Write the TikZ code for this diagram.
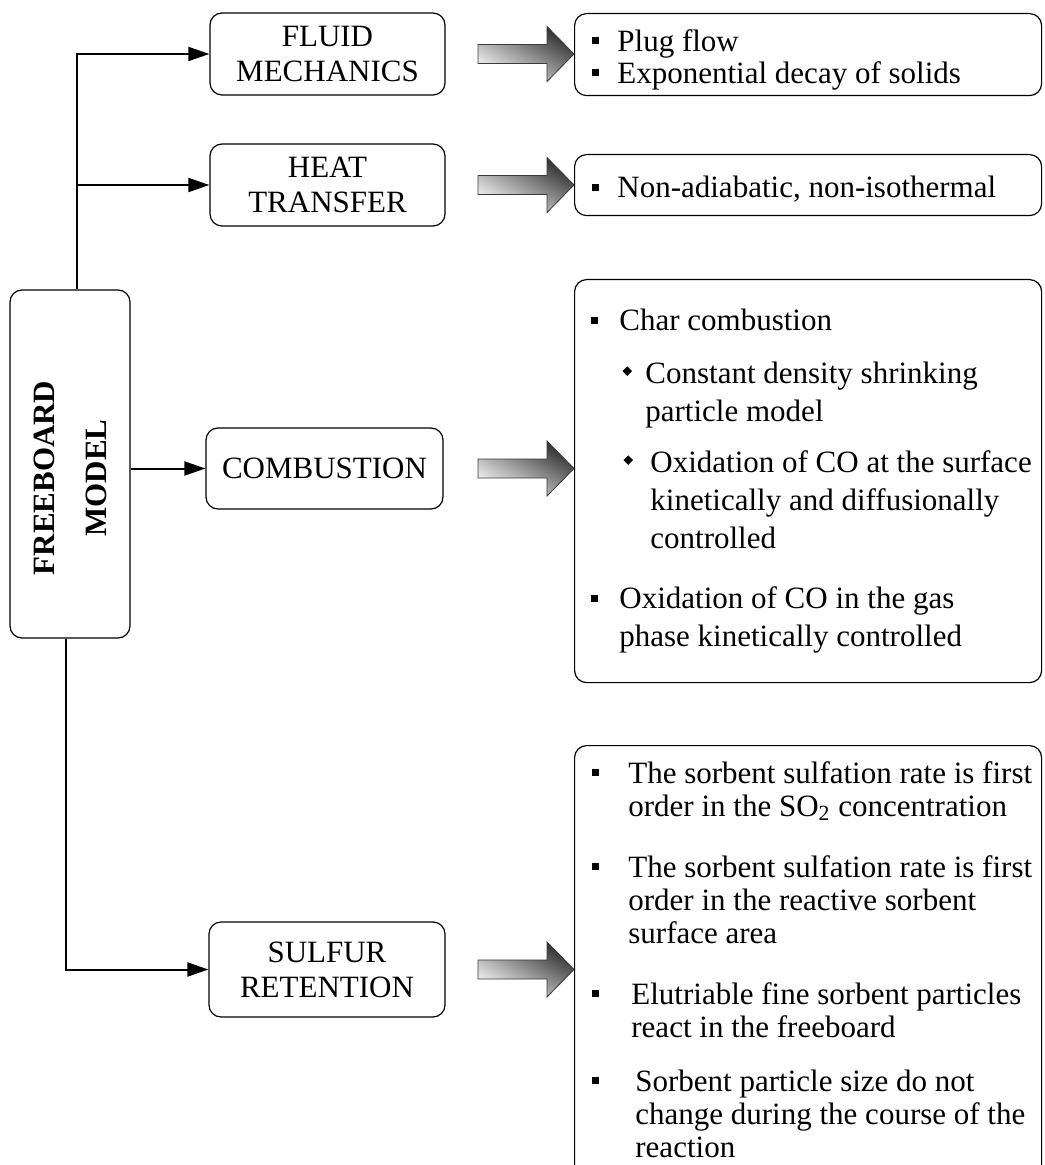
\documentclass[tikz,border=0pt]{standalone}
\usepackage{fontspec}
\setmainfont{Liberation Serif}
\usetikzlibrary{arrows.meta}
\definecolor{ink}{HTML}{000000}
\definecolor{arrowdark}{HTML}{2E2E2E}
\definecolor{arrowlight}{HTML}{F6F6F6}
\definecolor{arrowedge}{HTML}{3A3A3A}
\newcommand{\sqbullet}{\raisebox{3.5pt}{\rule{3.5pt}{3.5pt}}}
\newcommand{\dmbullet}{\raisebox{4pt}{\rotatebox{45}{\rule{3.4pt}{3.4pt}}}}
\tikzset{
  >={Triangle[length=10.5pt,width=7pt]},
  stage/.style={draw=ink,rounded corners=6pt,line width=.6pt,inner sep=0pt,align=center,
    font=\fontsize{15.5}{17.5}\selectfont},
  note/.style={draw=ink,rounded corners=6pt,line width=.6pt,inner sep=0pt,anchor=north west,
    minimum width=233.5pt},
  items/.style={anchor=north west,inner sep=0pt,align=left},
  link/.style={->,line width=1pt,color=ink},
  fatarrow/.style={draw=arrowedge,line width=.4pt,top color=arrowdark,bottom color=arrowlight,
    shading angle=-30},
}

\begin{document}
\begin{tikzpicture}[x=.5pt,y=-.5pt]
  \path[use as bounding box,fill=white] (0,0) rectangle (1044,1165);
  \clip (0,0) rectangle (1044,1165);

  % model and its four parts
  \node[stage,minimum width=60pt,minimum height=174pt] (free) at (70,464) {};
  \node[rotate=90,align=center,inner sep=0pt,font=\bfseries\fontsize{15.5}{26}\selectfont]
    (freetext) at ([yshift=-7pt]free.center) {FREEBOARD\\MODEL};

  \node[stage,minimum width=117.5pt,minimum height=41pt] (fluid) at (327.5,54) {FLUID\\MECHANICS};
  \node[stage,minimum width=117.5pt,minimum height=41pt] (heat) at (327.5,185) {HEAT\\TRANSFER};
  \node[stage,minimum width=118.5pt,minimum height=40.5pt] (comb) at (324.5,468.5) {COMBUSTION};
  \node[stage,minimum width=118pt,minimum height=47.5pt] (sulfur) at (327,969.5) {SULFUR\\RETENTION};

  \coordinate (trunktop) at ([xshift=3.5pt]free.north);
  \coordinate (trunkbot) at ([xshift=-2pt]free.south);
  \draw[link] (trunktop) |- (fluid.west);
  \draw[link] (trunktop |- heat.west) -- (heat.west);
  \draw[link] (free.east |- comb.west) -- (comb.west);
  \draw[link] (trunkbot) |- (sulfur.west);

  % assumption boxes
  \node[note,minimum height=41pt] (r1) at (574,13) {};
  \node[note,minimum height=30.5pt] (r2) at (574,154) {};
  \node[note,minimum height=201.5pt] (r3) at (574,279) {};
  \node[note,minimum height=230pt] (r4) at (574,745) {};

  \coordinate (tip1) at (r1.west |- fluid.east);
  \coordinate (tip2) at (r2.west |- heat.east);
  \coordinate (tip3) at (r3.west |- comb.east);
  \coordinate (tip4) at (r4.west |- sulfur.east);
  \foreach \t in {tip1,tip2,tip3,tip4}
    \path[fatarrow,shift={(\t)}] (0,0) -- (-27,-27.5) -- (-27,-9.5) -- (-96,-9.5)
      -- (-96,9.5) -- (-27,9.5) -- (-27,27.5) -- cycle;

  \node[items,font=\fontsize{15.5}{16}\selectfont] (t1) at ([xshift=9pt,yshift=-8pt]r1.north west)
    {\makebox[12.5pt][l]{\sqbullet}Plug flow\\
     \makebox[12.5pt][l]{\sqbullet}Exponential decay of solids};

  \node[items,font=\fontsize{15.5}{16}\selectfont] (t2) at ([xshift=9pt,yshift=-11pt]r2.north west)
    {\makebox[12.5pt][l]{\sqbullet}Non-adiabatic, non-isothermal};

  \node[items,font=\fontsize{15.5}{19}\selectfont] (t3) at ([xshift=8.5pt,yshift=-15pt]r3.north west)
    {\makebox[14pt][l]{\sqbullet}Char combustion\\[7.5pt]
     \hspace*{15.5pt}\makebox[11.5pt][l]{\dmbullet}Constant density shrinking\\
     \hspace*{27pt}particle model\\[6.5pt]
     \hspace*{16pt}\makebox[13.5pt][l]{\dmbullet}Oxidation of CO at the surface\\
     \hspace*{29.5pt}kinetically and diffusionally\\
     \hspace*{29.5pt}controlled\\[11pt]
     \makebox[14pt][l]{\sqbullet}Oxidation of CO in the gas\\
     \hspace*{14pt}phase kinetically controlled};

  \node[items,font=\fontsize{15.5}{16.5}\selectfont] (t4) at ([xshift=9pt,yshift=-8pt]r4.north west)
    {\makebox[18pt][l]{\sqbullet}The sorbent sulfation rate is first\\
     \hspace*{18pt}order in the SO\textsubscript{2} concentration\\[14pt]
     \makebox[18pt][l]{\sqbullet}The sorbent sulfation rate is first\\
     \hspace*{18pt}order in the reactive sorbent\\
     \hspace*{18pt}surface area\\[14pt]
     \makebox[19.5pt][l]{\sqbullet}Elutriable fine sorbent particles\\
     \hspace*{19.5pt}react in the freeboard\\[10.5pt]
     \makebox[21.5pt][l]{\sqbullet}Sorbent particle size do not\\
     \hspace*{21.5pt}change during the course of the\\
     \hspace*{21.5pt}reaction};
\end{tikzpicture}
\end{document}
